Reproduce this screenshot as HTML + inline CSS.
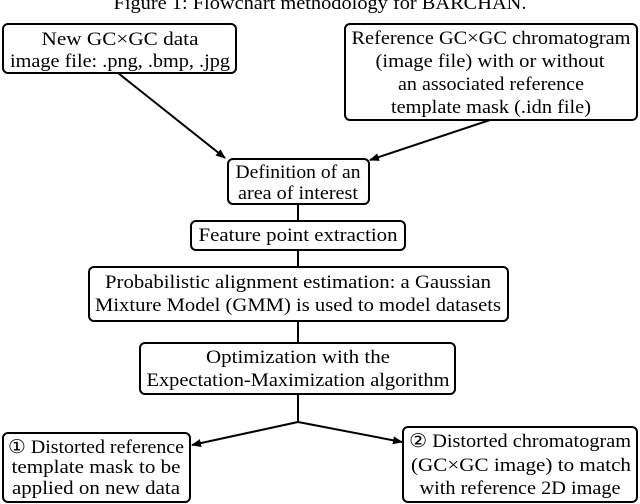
<!DOCTYPE html>
<html><head><style>
body{margin:0;background:#fff;}
svg{display:block;}
text{font-family:"Liberation Serif",serif;font-size:19px;fill:#000;text-anchor:middle;}
rect{fill:#fff;stroke:#000;stroke-width:2;}
line{stroke:#000;stroke-width:2;}
</style></head><body>
<svg width="640" height="504" viewBox="0 0 640 504" xmlns="http://www.w3.org/2000/svg">
<defs><marker id="a" markerWidth="10" markerHeight="8" refX="9" refY="4" orient="auto" markerUnits="userSpaceOnUse"><path d="M0,0 L10,4 L0,8 z" fill="#000"/></marker></defs>
<text x="320" y="9" textLength="413" lengthAdjust="spacingAndGlyphs">Figure 1: Flowchart methodology for BARCHAN.</text>
<line x1="118" y1="73" x2="225" y2="158" marker-end="url(#a)"/>
<line x1="490" y1="120" x2="370" y2="160" marker-end="url(#a)"/>
<line x1="298" y1="204" x2="298" y2="343"/>
<line x1="298" y1="394" x2="298" y2="422"/>
<line x1="298" y1="422" x2="192" y2="445" marker-end="url(#a)"/>
<line x1="298" y1="422" x2="402" y2="442" marker-end="url(#a)"/>
<rect x="3" y="24" width="233" height="49" rx="5"/>
<text x="120" y="45" textLength="157" lengthAdjust="spacingAndGlyphs">New GC×GC data</text>
<text x="120" y="67" textLength="220" lengthAdjust="spacingAndGlyphs">image file: .png, .bmp, .jpg</text>
<rect x="345" y="24" width="292" height="96" rx="5"/>
<text x="491" y="44" textLength="279" lengthAdjust="spacingAndGlyphs">Reference GC×GC chromatogram</text>
<text x="490" y="67" textLength="229" lengthAdjust="spacingAndGlyphs">(image file) with or without</text>
<text x="491" y="90" textLength="186" lengthAdjust="spacingAndGlyphs">an associated reference</text>
<text x="491" y="113" textLength="200" lengthAdjust="spacingAndGlyphs">template mask (.idn file)</text>
<rect x="228" y="159" width="141" height="45" rx="5"/>
<text x="298" y="178" textLength="125" lengthAdjust="spacingAndGlyphs">Definition of an</text>
<text x="298" y="199" textLength="120" lengthAdjust="spacingAndGlyphs">area of interest</text>
<rect x="191" y="221" width="214" height="29" rx="5"/>
<text x="298" y="241" textLength="199" lengthAdjust="spacingAndGlyphs">Feature point extraction</text>
<rect x="89" y="267" width="419" height="54" rx="5"/>
<text x="298" y="288" textLength="386" lengthAdjust="spacingAndGlyphs">Probabilistic alignment estimation: a Gaussian</text>
<text x="298" y="311" textLength="406" lengthAdjust="spacingAndGlyphs">Mixture Model (GMM) is used to model datasets</text>
<rect x="140" y="343" width="315" height="51" rx="5"/>
<text x="298" y="363" textLength="184" lengthAdjust="spacingAndGlyphs">Optimization with the</text>
<text x="298" y="386" textLength="303" lengthAdjust="spacingAndGlyphs">Expectation-Maximization algorithm</text>
<rect x="3" y="433" width="187" height="69" rx="5"/>
<text x="96" y="453" textLength="176" lengthAdjust="spacingAndGlyphs">① Distorted reference</text>
<text x="96" y="473" textLength="169" lengthAdjust="spacingAndGlyphs">template mask to be</text>
<text x="96" y="494" textLength="168" lengthAdjust="spacingAndGlyphs">applied on new data</text>
<rect x="403" y="427" width="234" height="75" rx="5"/>
<text x="520" y="447" textLength="222" lengthAdjust="spacingAndGlyphs">② Distorted chromatogram</text>
<text x="521" y="471" textLength="220" lengthAdjust="spacingAndGlyphs">(GC×GC image) to match</text>
<text x="520" y="494" textLength="201" lengthAdjust="spacingAndGlyphs">with reference 2D image</text>
</svg>
</body></html>
